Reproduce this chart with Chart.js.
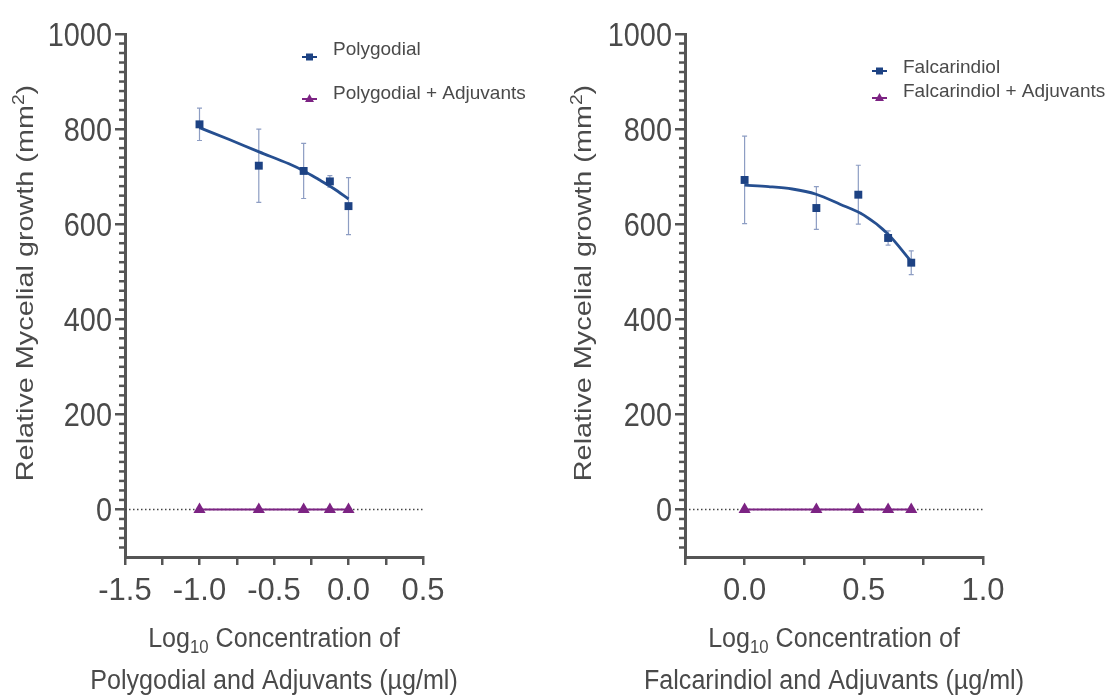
<!DOCTYPE html>
<html>
<head>
<meta charset="utf-8">
<title>Relative mycelial growth</title>
<script src="https://cdn.jsdelivr.net/npm/chart.js@4.4.1/dist/chart.umd.min.js"></script>
<style>
  html, body { margin: 0; padding: 0; background: #fff; }
  #wrap { position: relative; width: 1113px; height: 697px; overflow: hidden; }
  canvas { position: absolute; top: 0; }
  #left { left: 0; }
  #right { left: 556px; }
</style>
</head>
<body>
<div id="wrap">
  <canvas id="left" width="556" height="697"></canvas>
  <canvas id="right" width="557" height="697"></canvas>
</div>
<script>
'use strict'

// ---- data ----
// log10 concentrations (ug/ml)
const polyX = [-1.0, -0.602, -0.301, -0.125, 0.0]
const polyMean = [810, 723, 712, 690, 638]
const polyErr = [34, 77, 58, 12, 60]
const polyAdj = [0, 0, 0, 0, 0]
const polyFitX = [-1.0, -0.8, -0.6, -0.4, -0.3, -0.2, -0.1, 0.0]
const polyFitY = [803, 778, 752, 727, 712, 694, 675, 653]

const falcX = [0.0, 0.301, 0.477, 0.602, 0.699]
const falcMean = [693, 634, 662, 571, 519]
const falcErr = [92, 45, 62, 15, 25]
const falcAdj = [0, 0, 0, 0, 0]
const falcFitX = [0.0, 0.1, 0.2, 0.3, 0.4, 0.5, 0.6, 0.7]
const falcFitY = [682, 679, 674, 663, 642, 619, 580, 521]

const polyRange = [-1.5, 0.5]
const falcRange = [-0.25, 1.0]
const yRange = [-100, 1000]
const yMajorStep = 200
const yMinorStep = 20
const xStep = 0.25
const xLabelStep = 0.5

const BLUE = '#1d4283'
const BLUE_LINE = '#264f90'
const PURPLE = '#7c2383'
const ERR = '#8d9dc3'
const AXIS = '#555555'
const TEXT = '#4a4a4a'
const SANS = '"Liberation Sans", Arial, sans-serif'

function pts(xs, ys) {
    return xs.map((x, i) => ({x: x, y: ys[i]}))
}

function isMult(v, step) {
    return Math.abs(v / step - Math.round(v / step)) < 1e-6
}

function isMajorY(v) {
    return isMult(v, yMajorStep) && v >= 0
}

// error bars, minor ticks, y labels, titles and the legend
const decor = {
    id: 'decor',
    beforeDatasetsDraw(chart, args, opts) {
        const ctx = chart.ctx
        const xs = chart.scales.x
        const ys = chart.scales.y
        ctx.save()
        ctx.strokeStyle = ERR
        ctx.lineWidth = 1.2
        opts.errX.forEach((x, i) => {
            const px = xs.getPixelForValue(x)
            const top = ys.getPixelForValue(opts.errMean[i] + opts.errVal[i])
            const bot = ys.getPixelForValue(opts.errMean[i] - opts.errVal[i])
            ctx.beginPath()
            ctx.moveTo(px, top); ctx.lineTo(px, bot)
            ctx.moveTo(px - 2.5, top); ctx.lineTo(px + 2.5, top)
            ctx.moveTo(px - 2.5, bot); ctx.lineTo(px + 2.5, bot)
            ctx.stroke()
        })
        ctx.restore()
    },
    afterDraw(chart, args, opts) {
        const ctx = chart.ctx
        const ys = chart.scales.y
        const area = chart.chartArea
        ctx.save()

        // minor y ticks
        ctx.strokeStyle = AXIS
        ctx.lineWidth = 2.5
        ys.ticks.forEach(t => {
            if (isMult(t.value, yMajorStep) || t.value <= yRange[0]) return
            const py = ys.getPixelForValue(t.value)
            ctx.beginPath()
            ctx.moveTo(area.left - 6, py)
            ctx.lineTo(area.left, py)
            ctx.stroke()
        })

        // y tick labels, narrow
        ctx.fillStyle = TEXT
        ctx.font = '34px ' + SANS
        ctx.textAlign = 'right'
        ctx.textBaseline = 'alphabetic'
        ys.ticks.forEach(t => {
            if (!isMajorY(t.value)) return
            const py = ys.getPixelForValue(t.value)
            ctx.setTransform(0.85, 0, 0, 1, area.left - 13, py + 12)
            ctx.fillText(String(t.value), 0, 0)
        })
        ctx.setTransform(1, 0, 0, 1, 0, 0)

        // y title, rotated, with superscript 2
        ctx.translate(opts.yTitleX, opts.yTitleY)
        ctx.rotate(-Math.PI / 2)
        ctx.scale(1.2, 1)
        ctx.textAlign = 'left'
        const big = '24px ' + SANS
        const small = '16px ' + SANS
        const p1 = 'Relative Mycelial growth (mm'
        const p2 = '2'
        const p3 = ')'
        ctx.font = big
        const w1 = ctx.measureText(p1).width
        const w3 = ctx.measureText(p3).width
        ctx.font = small
        const w2 = ctx.measureText(p2).width
        let sx = -(w1 + w2 + w3) / 2
        ctx.font = big
        ctx.fillText(p1, sx, 0)
        ctx.font = small
        ctx.fillText(p2, sx + w1, -9)
        ctx.font = big
        ctx.fillText(p3, sx + w1 + w2, 0)
        ctx.setTransform(1, 0, 0, 1, 0, 0)

        // x title, two lines, Log with subscript 10
        const cx = (area.left + area.right) / 2
        const f1 = '27px ' + SANS
        const f2 = '18px ' + SANS
        ctx.font = f1
        const a = ctx.measureText('Log').width
        const c = ctx.measureText(' Concentration of').width
        ctx.font = f2
        const b = ctx.measureText('10').width
        ctx.translate(cx, opts.xTitleY1)
        ctx.scale(0.93, 1)
        let lx = -(a + b + c) / 2
        ctx.font = f1
        ctx.fillText('Log', lx, 0)
        ctx.font = f2
        ctx.fillText('10', lx + a, 6)
        ctx.font = f1
        ctx.fillText(' Concentration of', lx + a + b, 0)
        ctx.setTransform(1, 0, 0, 1, 0, 0)
        ctx.translate(cx, opts.xTitleY2)
        ctx.scale(0.93, 1)
        ctx.textAlign = 'center'
        ctx.fillText(opts.xTitle2, 0, 0)
        ctx.setTransform(1, 0, 0, 1, 0, 0)

        // legend
        ctx.textAlign = 'left'
        ctx.font = '19px ' + SANS
        opts.legend.forEach(item => {
            ctx.strokeStyle = item.color
            ctx.fillStyle = item.color
            ctx.lineWidth = 2
            ctx.beginPath()
            ctx.moveTo(item.x, item.sy)
            ctx.lineTo(item.x + 15, item.sy)
            ctx.stroke()
            const mx = item.x + 7.5
            ctx.beginPath()
            if (item.shape === 'rect') {
                ctx.rect(mx - 3.5, item.sy - 3.5, 7, 7)
            } else {
                ctx.moveTo(mx, item.sy - 5)
                ctx.lineTo(mx + 4.5, item.sy + 3)
                ctx.lineTo(mx - 4.5, item.sy + 3)
                ctx.closePath()
            }
            ctx.fill()
            ctx.fillStyle = TEXT
            ctx.fillText(item.label, item.x + 31, item.ty)
        })
        ctx.restore()
    }
}

function makePanel(id, cfg) {
    const xr = cfg.xRange
    return new Chart(document.getElementById(id), {
        type: 'line',
        data: {
            datasets: [
                {   // mean values
                    data: pts(cfg.x, cfg.mean),
                    showLine: false,
                    pointStyle: 'rect',
                    pointRadius: 5.6,
                    pointBackgroundColor: BLUE,
                    pointBorderColor: BLUE,
                    pointBorderWidth: 0,
                    order: 1
                },
                {   // fitted curve
                    data: pts(cfg.fitX, cfg.fitY),
                    borderColor: BLUE_LINE,
                    borderWidth: 2.8,
                    pointRadius: 0,
                    cubicInterpolationMode: 'monotone',
                    order: 2
                },
                {   // with adjuvants
                    data: pts(cfg.x, cfg.adj),
                    borderColor: PURPLE,
                    borderWidth: 2,
                    pointStyle: 'triangle',
                    pointRadius: 7,
                    pointBackgroundColor: PURPLE,
                    pointBorderColor: PURPLE,
                    pointBorderWidth: 0,
                    order: 3
                },
                {   // dotted zero line
                    data: pts(xr, [0, 0]),
                    borderColor: '#444',
                    borderWidth: 1.4,
                    borderDash: [1.5, 2.5],
                    pointRadius: 0,
                    order: 4
                }
            ]
        },
        options: {
            responsive: false,
            animation: false,
            events: [],
            layout: {padding: {top: 34, right: cfg.padRight, left: 0, bottom: 0}},
            scales: {
                x: {
                    type: 'linear',
                    min: xr[0],
                    max: xr[1],
                    afterFit: s => { s.height = 140 },
                    border: {color: AXIS, width: 3},
                    grid: {drawOnChartArea: false, tickLength: 8, lineWidth: 2.5, color: AXIS},
                    ticks: {
                        stepSize: xStep,
                        autoSkip: false,
                        maxRotation: 0,
                        padding: 8,
                        color: TEXT,
                        font: {family: SANS, size: 31},
                        callback: v => isMult(v, xLabelStep) ? v.toFixed(1) : ''
                    }
                },
                y: {
                    min: yRange[0],
                    max: yRange[1],
                    afterFit: s => { s.width = cfg.axisLeft },
                    border: {color: AXIS, width: 3},
                    grid: {
                        drawOnChartArea: false,
                        tickLength: 10,
                        lineWidth: 2.5,
                        color: c => isMajorY(c.tick.value) ? AXIS : 'rgba(0,0,0,0)'
                    },
                    ticks: {
                        stepSize: yMinorStep,
                        autoSkip: false,
                        callback: () => ''
                    }
                }
            },
            plugins: {
                legend: {display: false},
                tooltip: {enabled: false},
                decor: {
                    errX: cfg.x,
                    errMean: cfg.mean,
                    errVal: cfg.err,
                    yTitleX: cfg.yTitleX,
                    yTitleY: 283,
                    xTitleY1: 647,
                    xTitleY2: 689,
                    xTitle2: cfg.xTitle2,
                    legend: cfg.legend
                }
            }
        },
        plugins: [decor]
    })
}

makePanel('left', {
    x: polyX, mean: polyMean, err: polyErr, adj: polyAdj,
    fitX: polyFitX, fitY: polyFitY,
    xRange: polyRange,
    axisLeft: 125, padRight: 133, yTitleX: 33,
    xTitle2: 'Polygodial and Adjuvants (\u00b5g/ml)',
    legend: [
        {label: 'Polygodial', color: BLUE, shape: 'rect', x: 302, sy: 57, ty: 55},
        {label: 'Polygodial + Adjuvants', color: PURPLE, shape: 'tri', x: 302, sy: 99, ty: 99}
    ]
})

makePanel('right', {
    x: falcX, mean: falcMean, err: falcErr, adj: falcAdj,
    fitX: falcFitX, fitY: falcFitY,
    xRange: falcRange,
    axisLeft: 129, padRight: 130, yTitleX: 35,
    xTitle2: 'Falcarindiol and Adjuvants (\u00b5g/ml)',
    legend: [
        {label: 'Falcarindiol', color: BLUE, shape: 'rect', x: 316, sy: 71, ty: 73},
        {label: 'Falcarindiol + Adjuvants', color: PURPLE, shape: 'tri', x: 316, sy: 98, ty: 97}
    ]
})
</script>
</body>
</html>
